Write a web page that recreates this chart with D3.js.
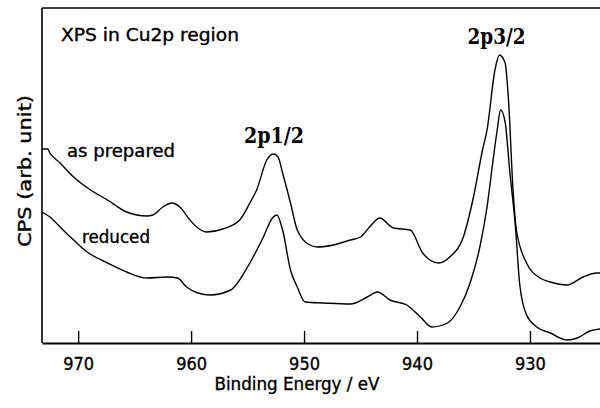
<!DOCTYPE html>
<html>
<head>
<meta charset="utf-8">
<script src="https://cdn.jsdelivr.net/npm/d3@7"></script>
<style>
  html, body { margin: 0; padding: 0; background: #fff; }
  svg { display: block; }
  .sans { font-family: "DejaVu Sans Condensed", "DejaVu Sans", sans-serif; font-stretch: condensed;
          stroke: #000; stroke-width: 0.35px; }
  .peak { font-family: "DejaVu Serif", "Liberation Serif", serif; font-weight: bold; }
</style>
</head>
<body>
<svg id="chart" width="600" height="408"></svg>
<script>
// Cu 2p XPS spectra: binding energy (eV) and counts (arbitrary units)
const preparedEnergy = [973.2, 972.7, 972.5, 971.6, 970.4, 968.9, 967.4, 965.7, 963.9, 963.4,
  962.5, 961.7, 961.0, 960.1, 959.4, 958.6, 957.2, 955.7, 954.8, 954.2,
  953.3, 952.7, 952.3, 951.9, 951.2, 950.6, 949.5, 948.8, 947.4, 945.9,
  945.0, 944.2, 943.3, 942.1, 940.6, 939.5, 938.1, 937.1, 935.9, 935.0,
  934.2, 933.8, 933.1, 932.7, 932.2, 931.9, 931.5, 931.2, 930.3, 929.1,
  928.2, 926.7, 925.3, 924.1, 923.8];
const preparedCounts = [194, 194, 190, 180, 166, 153, 143, 131, 127, 128,
  136, 140, 136, 123, 115, 111, 114, 123, 140, 153,
  183, 189, 186, 170, 140, 113, 98, 96, 98, 103,
  106, 116, 125, 115, 113, 90, 80, 86, 106, 146,
  193, 213, 273, 288, 280, 243, 153, 113, 80, 65,
  61, 58, 66, 70, 70];

const reducedEnergy = [973.2, 972.5, 971.6, 970.4, 969.2, 967.4, 965.7, 963.9, 962.1, 961.2,
  960.4, 959.4, 958.3, 956.5, 954.8, 953.6, 952.8, 952.4, 951.9, 951.2,
  950.6, 949.9, 948.3, 945.9, 944.4, 943.5, 942.4, 940.9, 939.7, 938.7,
  937.3, 936.2, 935.3, 934.4, 933.8, 933.3, 932.9, 932.6, 932.2, 931.8,
  931.3, 930.9, 930.3, 929.4, 928.2, 926.7, 925.8, 924.7, 923.8];
const reducedCounts = [131, 126, 116, 103, 91, 80, 71, 65, 66, 65,
  56, 50, 48, 53, 80, 106, 125, 128, 113, 73,
  56, 41, 40, 39, 46, 51, 43, 38, 26, 16,
  20, 36, 60, 98, 136, 180, 213, 233, 221, 173,
  118, 58, 28, 16, 10, 3, 5, 12, 14];

const xTicks = [970, 960, 950, 940, 930];
const seriesNames = ["as prepared", "reduced"];
const peakNames = ["2p1/2", "2p3/2"];
const peakEnergy = [952.7, 932.7];

const svg = d3.select("#chart");
const plotLeft = 42, plotRight = 600, plotTop = 8, plotBottom = 343;

const x = d3.scaleLinear().domain([973.2, 923.8]).range([plotLeft, plotRight]);
const y = d3.scaleLinear().domain([0, 335]).range([plotBottom, plotTop]);

// frame: left axis and top border
svg.append("line").attr("x1", plotLeft).attr("x2", plotLeft).attr("y1", plotTop).attr("y2", plotBottom)
  .attr("stroke", "#000").attr("stroke-width", 1.6);
svg.append("line").attr("x1", plotLeft).attr("x2", plotRight).attr("y1", plotTop).attr("y2", plotTop)
  .attr("stroke", "#000").attr("stroke-width", 1.6);

// bottom axis with inward ticks
const xAxis = d3.axisBottom(x).tickValues(xTicks).tickSizeInner(-12).tickSizeOuter(0).tickPadding(16);
const gx = svg.append("g").attr("transform", `translate(0,${plotBottom})`).call(xAxis);
gx.select(".domain").attr("stroke", "#000").attr("stroke-width", 2);
gx.selectAll(".tick line").attr("stroke", "#000").attr("stroke-width", 1.4);
gx.selectAll(".tick text").attr("class", "sans").attr("font-size", 18).attr("fill", "#000")
  .attr("dy", "0.71em").attr("y", 14);

// spectra
const line = d3.line().x(d => x(d[0])).y(d => y(d[1])).curve(d3.curveMonotoneX);
const series = [
  d3.zip(preparedEnergy, preparedCounts),
  d3.zip(reducedEnergy, reducedCounts)
];
svg.selectAll("path.spec").data(series).join("path")
  .attr("class", "spec")
  .attr("d", line)
  .attr("fill", "none")
  .attr("stroke", "#000")
  .attr("stroke-width", 1.4)
  .attr("stroke-linejoin", "round");

// text labels
const txt = (t, px, py, size, cls, len, anchor) => {
  const el = svg.append("text").attr("x", px).attr("y", py).attr("font-size", size)
    .attr("class", cls).attr("fill", "#000").text(t);
  if (anchor) el.attr("text-anchor", anchor);
  if (len) el.attr("textLength", len).attr("lengthAdjust", "spacingAndGlyphs");
  return el;
};

txt("XPS in Cu2p region", 61, 41, 18, "sans", 178);
txt(seriesNames[0], 67, 157, 18, "sans", 108);
txt(seriesNames[1], 82, 243, 18, "sans", 68);
txt(peakNames[0], x(peakEnergy[0]) + 0.5, 143, 22, "peak", 60, "middle");
txt(peakNames[1], x(peakEnergy[1]) - 3, 44, 22, "peak", 58, "middle");
txt("Binding Energy / eV", 297, 390, 17, "sans", 165, "middle");

svg.append("text")
  .attr("class", "sans")
  .attr("font-size", 17)
  .attr("text-anchor", "middle")
  .attr("transform", "translate(31,171) rotate(-90)")
  .attr("textLength", 152).attr("lengthAdjust", "spacingAndGlyphs")
  .attr("fill", "#000")
  .text("CPS (arb. unit)");
</script>
</body>
</html>
